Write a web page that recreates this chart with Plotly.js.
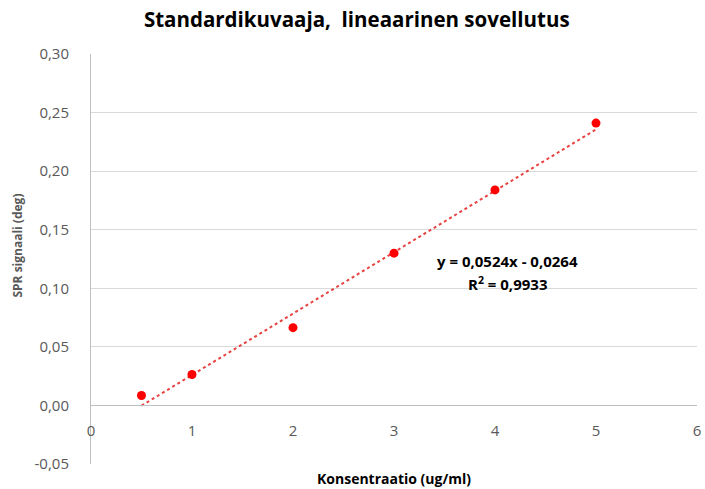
<!DOCTYPE html>
<html>
<head>
<meta charset="utf-8">
<script src="https://cdn.plot.ly/plotly-3.0.1.min.js"></script>
<style>html,body{margin:0;padding:0;background:#fff;}#chart{width:705px;height:489px;}</style>
</head>
<body>
<div id="chart"></div>
<script>
var concentration = [0.5, 1, 2, 3, 4, 5];
var signal = [0.0085, 0.0264, 0.0664, 0.130, 0.184, 0.241];
var slope = 0.0524;
var intercept = -0.0264;
var rSquared = 0.9933;
var trendX = [0.5, 5];
var trendY = trendX.map(function (x) { return slope * x + intercept; });
var yTicks = [-0.05, 0, 0.05, 0.10, 0.15, 0.20, 0.25, 0.30];
var xTicks = [0, 1, 2, 3, 4, 5, 6];

var yMin = -0.05, yMax = 0.30;
var zeroPos = (0 - yMin) / (yMax - yMin);
var fmt = function (v, d) { return v.toFixed(d).replace('.', ','); };

var font = "Open Sans, Liberation Sans, sans-serif";
var traces = [
  {
    x: trendX, y: trendY, mode: 'lines', type: 'scatter',
    line: {color: '#e8413f', width: 2, dash: 'dot'},
    hoverinfo: 'skip', showlegend: false
  },
  {
    x: concentration, y: signal, mode: 'markers', type: 'scatter',
    marker: {color: '#ff0000', size: 9},
    showlegend: false
  }
];
var layout = {
  width: 705, height: 489,
  margin: {l: 91, r: 8, t: 54, b: 25},
  paper_bgcolor: '#fff', plot_bgcolor: '#fff',
  separators: ',.',
  font: {family: font, color: '#595959'},
  title: {text: '<b>Standardikuvaaja,  lineaarinen sovellutus</b>', font: {size: 20.5, color: '#000', family: font}, x: 0.506, xanchor: 'center', y: 0.96, yanchor: 'middle'},
  xaxis: {
    range: [0, 6], tickvals: xTicks, ticktext: xTicks.map(String),
    showgrid: false, zeroline: false,
    showline: true, linecolor: '#bfbfbf', linewidth: 1,
    anchor: 'free', position: zeroPos,
    ticks: '', ticklabelstandoff: 12, tickfont: {size: 15, color: '#595959', family: font}
  },
  yaxis: {
    range: [yMin, yMax], tickvals: yTicks, ticktext: yTicks.map(function (v) { return fmt(v, 2); }),
    showgrid: true, gridcolor: '#d9d9d9', gridwidth: 1, zeroline: false,
    showline: true, linecolor: '#bfbfbf', linewidth: 1,
    ticks: '', ticklabelstandoff: 18, tickfont: {size: 15, color: '#595959', family: font}
  },
  annotations: [
    {xref: 'paper', yref: 'paper', x: -0.121, y: 0.532, xanchor: 'center', yanchor: 'middle', showarrow: false, textangle: -90,
     text: '<b>SPR signaali (deg)</b>', font: {size: 12, color: '#595959', family: font}},
    {xref: 'paper', yref: 'paper', x: 0.5, y: -0.008, xanchor: 'center', yanchor: 'top', showarrow: false,
     text: '<b>Konsentraatio (ug/ml)</b>', font: {size: 14, color: '#000', family: font}},
    {xref: 'x', yref: 'y', x: 4.12, y: 0.1235, xanchor: 'center', yanchor: 'middle', showarrow: false,
     text: '<b>y = ' + fmt(slope, 4) + 'x - ' + fmt(-intercept, 4) + '</b>',
     font: {size: 15, color: '#000', family: font}},
    {xref: 'x', yref: 'y', x: 4.12, y: 0.1045, xanchor: 'center', yanchor: 'middle', showarrow: false,
     text: '<b>R<sup>2</sup> = ' + fmt(rSquared, 4) + '</b>',
     font: {size: 15, color: '#000', family: font}}
  ]
};
Plotly.newPlot('chart', traces, layout, {displayModeBar: false, staticPlot: true});
</script>
</body>
</html>
